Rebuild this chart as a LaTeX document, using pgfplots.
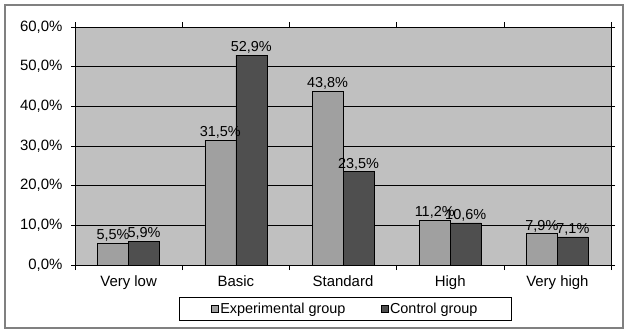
\documentclass[border=0pt]{standalone}
\usepackage{pgfplots}
\pgfplotsset{compat=1.18}
\usepackage{fontspec}
\setmainfont{Liberation Sans}
\definecolor{bgc}{HTML}{C0C0C0}
\definecolor{expc}{HTML}{A0A0A0}
\definecolor{ctrlc}{HTML}{4F4F4F}
\definecolor{framec}{HTML}{808080}
\begin{document}
\begin{tikzpicture}[x=1bp,y=1bp]
\useasboundingbox (0,0) rectangle (631,334);
\draw[framec, line width=1.2bp] (5,6) rectangle (623,329);
\begin{axis}[
  at={(75bp,69bp)}, anchor=south west,
  scale only axis, width=536bp, height=238bp,
  xmin=-0.5, xmax=4.5, ymin=0, ymax=60,
  ybar=0pt, bar width=31bp,
  axis background/.style={fill=bgc},
  axis line style={black, line width=0.6bp},
  ytick={0,10,...,60},
  ymajorgrids, grid style={black, line width=0.6bp},
  yticklabel={\pgfmathprintnumber[fixed,fixed zerofill,precision=1,use comma]{\tick}\%},
  /pgf/number format/assume math mode=true,
  xtick={0,1,2,3,4},
  xticklabels={Very low,Basic,Standard,High,Very high},
  minor xtick={-0.5,0.5,1.5,2.5,3.5,4.5},
  major x tick style={draw=none},
  minor x tick style={black, line width=0.6bp},
  y tick style={black, line width=0.6bp},
  tick align=outside,
  major tick length=4bp, minor tick length=5bp,
  ticklabel style={font=\fontsize{15}{17}\selectfont},
  yticklabel style={xshift=-5bp},
  xticklabel style={yshift=-3bp},
  nodes near coords={\pgfmathprintnumber[fixed,fixed zerofill,precision=1,use comma]{\pgfplotspointmeta}\%},
  every node near coord/.append style={font=\fontsize{14.5}{17}\selectfont, black, inner sep=1.5bp},
  legend columns=2,
  legend style={at={(0.504,-0.185)}, anchor=center, draw=black, line width=0.5bp,
    font=\fontsize{14.5}{17}\selectfont, inner xsep=32bp, inner ysep=3.5bp,
    /tikz/every even column/.append style={column sep=33bp}},
  legend image code/.code={\draw[#1, draw=black, line width=0.5bp] (0bp,-3.5bp) rectangle (7bp,3.5bp);},
]
\addplot[fill=expc, draw=black, line width=0.6bp] coordinates {(0,5.5) (1,31.5) (2,43.8) (3,11.2) (4,7.9)};
\addplot[fill=ctrlc, draw=black, line width=0.6bp] coordinates {(0,5.9) (1,52.9) (2,23.5) (3,10.6) (4,7.1)};
\legend{Experimental group,Control group}
\end{axis}
\end{tikzpicture}
\end{document}
